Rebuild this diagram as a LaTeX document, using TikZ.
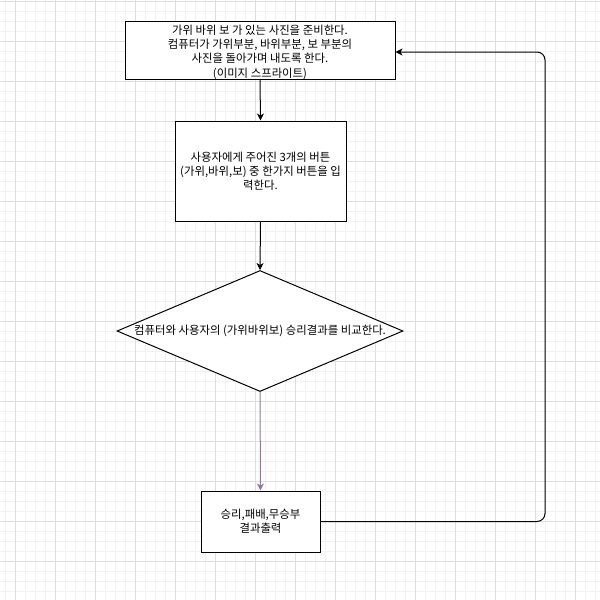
\documentclass[tikz,border=0pt]{standalone}
\usepackage{fontspec}
\setmainfont{Noto Sans CJK KR}
\usepackage{tikz}
\usetikzlibrary{shapes.geometric, arrows.meta, positioning}
\definecolor{gridminor}{RGB}{242,242,242}
\definecolor{gridmajor}{RGB}{222,222,222}
\definecolor{flowpurple}{RGB}{150,115,166}
\tikzset{
  procbox/.style={rectangle, draw=black, fill=white, line width=1pt,
    align=center, font=\fontsize{11.4}{14.2}\selectfont, inner sep=0pt},
  decision/.style={diamond, draw=black, fill=white, line width=1pt,
    minimum width=286pt, minimum height=121pt, inner sep=0pt},
  arrow/.style={-{Stealth[length=7pt, width=7pt, inset=2pt]}, line width=1pt, color=black},
  purplearrow/.style={-{Stealth[length=7pt, width=7pt, inset=2pt]}, line width=1pt, color=flowpurple}
}
\begin{document}
\begin{tikzpicture}[x=1pt, y=-1pt]
  \useasboundingbox (0,0) rectangle (600,600);
  % Background grid
  \fill[white] (0,0) rectangle (600,600);
  \foreach \x in {5,15,...,595} {
    \draw[gridminor, line width=0.8pt] (\x,0) -- (\x,600);
  }
  \foreach \y in {1,11,...,591} {
    \draw[gridminor, line width=0.8pt] (0,\y) -- (600,\y);
  }
  \foreach \x in {15,55,...,575} {
    \draw[gridmajor, line width=0.8pt] (\x,0) -- (\x,600);
  }
  \foreach \y in {1,41,...,561} {
    \draw[gridmajor, line width=0.8pt] (0,\y) -- (600,\y);
  }

  % Flow steps
  \node[procbox, minimum width=270pt, minimum height=57pt] (prep) at (260,50.5)
    {\rule{0pt}{13pt}가위 바위 보 가 있는 사진을 준비한다.\\컴퓨터가 가위부분, 바위부분, 보 부분의\\사진을 돌아가며 내도록 한다.\\(이미지 스프라이트)};
  \node[procbox, minimum width=171pt, minimum height=100pt] (input) at (260.5,171)
    {사용자에게 주어진 3개의 버튼\\(가위,바위,보) 중 한가지 버튼을 입\\력한다.};
  \node[decision] (cmp) at (260,331) {};
  \node[font=\fontsize{11.4}{14.2}\selectfont] (cmptext) at (cmp.center)
    {컴퓨터와 사용자의 (가위바위보) 승리결과를 비교한다.};
  \node[procbox, minimum width=119pt, minimum height=61pt] (result) at (260.5,521.5)
    {승리,패배,무승부\\결과출력};

  % Connectors
  \draw[arrow] (prep.south) -- (input.north);
  \draw[arrow] (input.south) -- (cmp.north);
  \draw[purplearrow] (cmp.south) -- (result.north);
  \coordinate (loopbot) at (545,521.5);
  \coordinate (looptop) at (545,52);
  \draw[arrow, rounded corners=8pt] (result.east) -- (loopbot) -- (looptop) -- (prep.east |- looptop);
\end{tikzpicture}
\end{document}
